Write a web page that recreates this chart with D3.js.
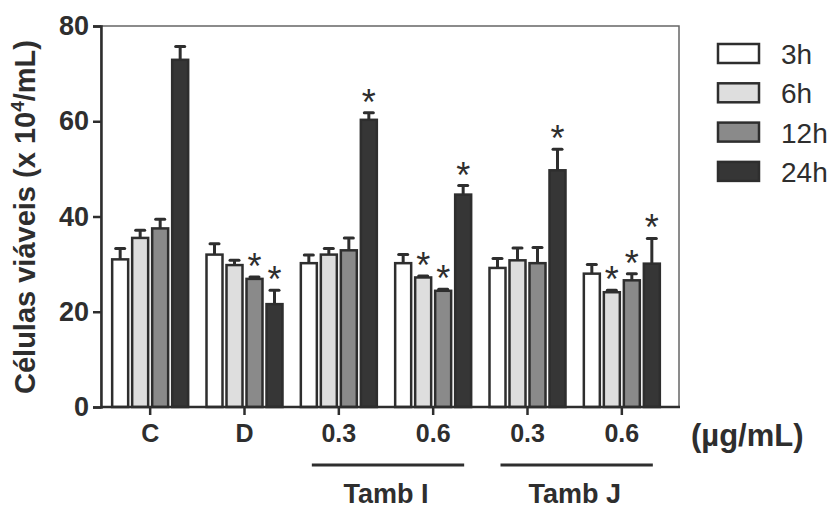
<!DOCTYPE html>
<html lang="en">
<head>
    <meta charset="utf-8">
    <title>Células viáveis</title>
    <style>
        body { margin: 0; background: #fff; font-family: "Liberation Sans", Arial, sans-serif; }
    </style>
    <script type="text/javascript" src="https://d3js.org/d3.v7.min.js"></script>
</head>
<body>
    <div class="chart"></div>
    <script type="text/javascript">
        // data
        const groupIds = ["C", "D", "I03", "I06", "J03", "J06"];
        const groupLabels = ["C", "D", "0.3", "0.6", "0.3", "0.6"];
        const times = ["3h", "6h", "12h", "24h"];

        const mean3h  = [31.0, 32.0, 30.2, 30.2, 29.2, 28.0];
        const mean6h  = [35.5, 29.8, 32.0, 27.2, 30.8, 24.1];
        const mean12h = [37.5, 26.9, 32.9, 24.4, 30.2, 26.6];
        const mean24h = [72.9, 21.6, 60.3, 44.6, 49.7, 30.1];

        const err3h  = [2.3, 2.3, 1.7, 1.8, 2.0, 1.9];
        const err6h  = [1.6, 1.0, 1.3, 0.3, 2.6, 0.4];
        const err12h = [1.9, 0.4, 2.6, 0.3, 3.3, 1.4];
        const err24h = [2.8, 2.9, 1.5, 1.9, 4.4, 5.3];

        const star3h  = [0, 0, 0, 0, 0, 0];
        const star6h  = [0, 0, 0, 1, 0, 1];
        const star12h = [0, 1, 0, 1, 0, 1];
        const star24h = [0, 1, 1, 1, 1, 1];

        const yTicks = [0, 20, 40, 60, 80];

        const seriesMeans = [mean3h, mean6h, mean12h, mean24h];
        const seriesErrs = [err3h, err6h, err12h, err24h];
        const seriesStars = [star3h, star6h, star12h, star24h];
        const fills = ["#ffffff", "#dedede", "#8a8a8a", "#363636"];
        const ink = "#2e2e2e";
        const font = "Liberation Sans, Arial, sans-serif";

        const W = 836, H = 510;
        const svg = d3.select(".chart").append("svg")
            .attr("width", W).attr("height", H)
            .attr("font-family", font);

        const yScale = d3.scaleLinear().domain([0, 80]).range([407, 26]);
        const x0 = d3.scaleBand().domain(groupIds).range([103, 669]);
        const x1 = d3.scaleBand().domain(times).range([0, 76]).paddingInner(0.2);
        const colorScale = d3.scaleOrdinal().domain(times).range(fills);

        // flatten into bar records
        const bars = [];
        groupIds.forEach((g, i) => {
            times.forEach((t, j) => {
                bars.push({g: g, t: t, v: seriesMeans[j][i], e: seriesErrs[j][i], s: seriesStars[j][i]});
            });
        });
        const barX = d => x0(d.g) + (x0.bandwidth() - 76) / 2 + x1(d.t);

        // frame
        svg.append("rect")
            .attr("x", 101).attr("y", yScale(80))
            .attr("width", 679 - 101).attr("height", yScale(0) - yScale(80))
            .attr("fill", "none").attr("stroke", "#666").attr("stroke-width", 1.5);

        // error bars (upper only)
        const eb = svg.append("g").attr("stroke", ink).attr("stroke-width", 3);
        eb.selectAll("line.v").data(bars).enter().append("line")
            .attr("x1", d => barX(d) + x1.bandwidth() / 2)
            .attr("x2", d => barX(d) + x1.bandwidth() / 2)
            .attr("y1", d => yScale(d.v))
            .attr("y2", d => yScale(d.v + d.e));
        eb.selectAll("line.cap").data(bars).enter().append("line")
            .attr("x1", d => barX(d) + x1.bandwidth() / 2 - 4.5)
            .attr("x2", d => barX(d) + x1.bandwidth() / 2 + 4.5)
            .attr("y1", d => yScale(d.v + d.e))
            .attr("y2", d => yScale(d.v + d.e))
            .attr("stroke-linecap", "round");

        // bars
        svg.append("g").selectAll("rect").data(bars).enter().append("rect")
            .attr("x", d => barX(d))
            .attr("y", d => yScale(d.v))
            .attr("width", x1.bandwidth())
            .attr("height", d => yScale(0) - yScale(d.v))
            .attr("fill", d => colorScale(d.t))
            .attr("stroke", ink)
            .attr("stroke-width", 2.5);

        // significance stars
        svg.append("g").selectAll("text").data(bars.filter(d => d.s)).enter().append("text")
            .attr("x", d => barX(d) + x1.bandwidth() / 2)
            .attr("y", d => yScale(d.v + d.e) + 2)
            .attr("text-anchor", "middle")
            .attr("font-size", 36)
            .attr("fill", ink)
            .text("*");

        // y axis
        const yAxis = d3.axisLeft(yScale).tickValues(yTicks).tickSize(8).tickPadding(4);
        const yg = svg.append("g").attr("transform", "translate(101,0)").call(yAxis);
        yg.attr("font-family", font);
        yg.select(".domain").attr("stroke", ink).attr("stroke-width", 2.5);
        yg.selectAll(".tick line").attr("stroke", ink).attr("stroke-width", 2.5);
        yg.selectAll(".tick text")
            .attr("font-size", 27).attr("font-weight", "bold").attr("fill", ink);

        // x axis
        const xAxis = d3.axisBottom(x0).tickSize(8).tickPadding(9)
            .tickFormat((d, i) => groupLabels[i]);
        const xg = svg.append("g").attr("transform", "translate(0,407)").call(xAxis);
        xg.attr("font-family", font);
        xg.select(".domain").remove();
        xg.selectAll(".tick line").attr("stroke", ink).attr("stroke-width", 2.5);
        xg.selectAll(".tick text")
            .attr("font-size", 25).attr("font-weight", "bold").attr("fill", ink);
        svg.append("line")
            .attr("x1", 101).attr("x2", 680).attr("y1", 407).attr("y2", 407)
            .attr("stroke", ink).attr("stroke-width", 2.5);

        svg.append("text")
            .attr("x", 691).attr("y", 446)
            .attr("font-size", 31).attr("font-weight", "bold").attr("fill", ink)
            .text("(µg/mL)");

        // y label
        const yl = svg.append("text")
            .attr("transform", "translate(35,217) rotate(-90)")
            .attr("text-anchor", "middle")
            .attr("font-size", 29).attr("font-weight", "bold").attr("fill", ink);
        yl.append("tspan").text("Células viáveis (x 10");
        yl.append("tspan").attr("dy", -11).attr("font-size", 19).text("4");
        yl.append("tspan").attr("dy", 11).text("/mL)");

        // compound brackets
        const brackets = [
            {name: "Tamb I", from: "I03", to: "I06"},
            {name: "Tamb J", from: "J03", to: "J06"}
        ];
        const bg = svg.append("g");
        bg.selectAll("line").data(brackets).enter().append("line")
            .attr("x1", d => x0(d.from) + x0.bandwidth() / 2 - 27)
            .attr("x2", d => x0(d.to) + x0.bandwidth() / 2 + 31)
            .attr("y1", 465).attr("y2", 465)
            .attr("stroke", ink).attr("stroke-width", 3);
        bg.selectAll("text").data(brackets).enter().append("text")
            .attr("x", d => (x0(d.from) + x0(d.to) + x0.bandwidth()) / 2)
            .attr("y", 503)
            .attr("text-anchor", "middle")
            .attr("font-size", 27).attr("font-weight", "bold").attr("fill", ink)
            .text(d => d.name);

        // legend
        const legend = svg.append("g").attr("transform", "translate(718,44)");
        legend.selectAll("rect").data(times).enter().append("rect")
            .attr("x", 0).attr("y", (d, i) => i * 39.3)
            .attr("width", 41).attr("height", 19)
            .attr("fill", d => colorScale(d))
            .attr("stroke", ink).attr("stroke-width", 2.5);
        legend.selectAll("text").data(times).enter().append("text")
            .attr("x", 63).attr("y", (d, i) => i * 39.3 + 20)
            .attr("font-size", 28).attr("fill", ink)
            .text(d => d);
    </script>
</body>
</html>
